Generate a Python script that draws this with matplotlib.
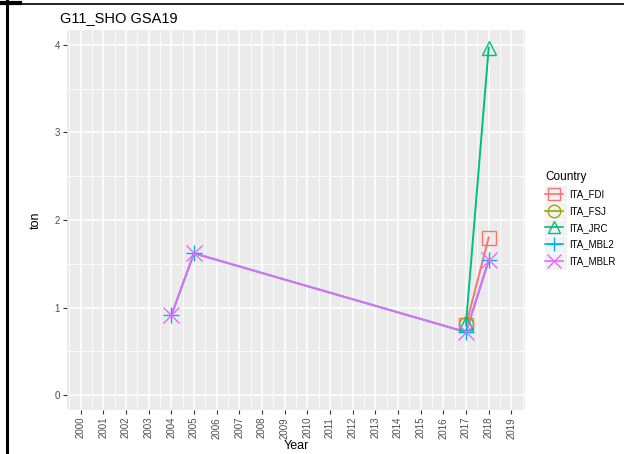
import matplotlib
matplotlib.use("Agg")
import matplotlib.pyplot as plt
from matplotlib.lines import Line2D
from matplotlib.patches import Rectangle
import numpy as np

plt.rcParams['font.family'] = ['Liberation Sans', 'DejaVu Sans']

# Series data (year, tonnes)
fdi_years = [2017, 2018]
fdi_values = [0.80, 1.80]
fsj_years = [2017]
fsj_values = [0.81]
jrc_years = [2017, 2018]
jrc_values = [0.82, 3.97]
mbl2_years = [2004, 2005, 2017, 2018]
mbl2_values = [0.91, 1.62, 0.72, 1.54]
mblr_years = [2004, 2005, 2017, 2018]
mblr_values = [0.91, 1.62, 0.72, 1.54]

countries = ["ITA_FDI", "ITA_FSJ", "ITA_JRC", "ITA_MBL2", "ITA_MBLR"]
colors = ["#F8766D", "#A3A500", "#00BF7D", "#00B0F6", "#E76BF3"]
markers = ["s", "o", "^", "+", "x"]
year_ticks = list(range(2000, 2020))
y_ticks = [0, 1, 2, 3, 4]

series = [(fdi_years, fdi_values), (fsj_years, fsj_values), (jrc_years, jrc_values),
          (mbl2_years, mbl2_values), (mblr_years, mblr_values)]

W, H = 624, 454
fig = plt.figure(figsize=(W / 100, H / 100), dpi=100)
fig.patch.set_facecolor("white")

# frame lines at the page edges
fig.add_artist(Line2D([7 / W, 7 / W], [0, 1], color="black", lw=2.2, transform=fig.transFigure))
fig.add_artist(Line2D([0, 1], [1 - 4 / H, 1 - 4 / H], color="black", lw=1.2, transform=fig.transFigure))
fig.add_artist(Line2D([0, 20 / W], [1 - 3 / H, 1 - 3 / H], color="black", lw=3, transform=fig.transFigure))

left, right, bottom, top = 67, 525, 410, 30
ax = fig.add_axes([left / W, 1 - bottom / H, (right - left) / W, (bottom - top) / H])
ax.set_facecolor("#EBEBEB")
for s in ax.spines.values():
    s.set_visible(False)

xmin, xmax = 1999.4, 2019.6
ymin, ymax = -0.17, 4.17
ax.set_xlim(xmin, xmax)
ax.set_ylim(ymin, ymax)

# ggplot-style grid
for yv in np.arange(0, 4.01, 1):
    ax.axhline(yv, color="white", lw=1.1, zorder=0)
for yv in np.arange(0.5, 4.01, 1):
    ax.axhline(yv, color="white", lw=0.55, zorder=0)
for xv in year_ticks:
    ax.axvline(xv, color="white", lw=1.1, zorder=0)
for xv in np.arange(1999.5, 2020, 1):
    ax.axvline(xv, color="white", lw=0.55, zorder=0)

for (xs, ys), c, m in zip(series, colors, markers):
    ax.plot(xs, ys, color=c, lw=1.4, zorder=2)
for (xs, ys), c, m in zip(series, colors, markers):
    if m in ("+", "x"):
        ax.plot(xs, ys, linestyle="none", marker=m, color=c, markersize=11, mew=1.0, zorder=3)
    else:
        ax.plot(xs, ys, linestyle="none", marker=m, markerfacecolor="none", markeredgecolor=c,
                markersize=10, mew=1.0, zorder=3)

ax.set_xticks(year_ticks)
ax.set_xticklabels([str(y) for y in year_ticks], rotation=90, fontsize=7, color="#4D4D4D")
ax.set_yticks(y_ticks)
ax.set_yticklabels([str(v) for v in y_ticks], fontsize=7, color="#4D4D4D")
ax.tick_params(axis="both", length=3, width=0.8, color="#333333", pad=2)
ax.set_xlabel("Year", fontsize=9, labelpad=1)
ax.set_ylabel("ton", fontsize=9, labelpad=9)

fig.text(60 / W, 1 - 18 / H, "G11_SHO GSA19", fontsize=10.5, ha="left", va="center")

# legend key backgrounds
for i in range(len(countries)):
    yc = 194 + i * 17.0
    fig.add_artist(Rectangle((545 / W, 1 - (yc + 8.3) / H), 22 / W, 16.6 / H,
                             transform=fig.transFigure, facecolor="#F2F2F2",
                             edgecolor="none", zorder=0))

# legend
handles = []
for c, m in zip(colors, markers):
    if m in ("+", "x"):
        h = Line2D([0], [0], color=c, lw=1.2, marker=m, markersize=10, mew=1.0)
    else:
        h = Line2D([0], [0], color=c, lw=1.2, marker=m, markersize=9, mew=1.0,
                   markerfacecolor="none", markeredgecolor=c)
    handles.append(h)
leg = fig.legend(handles, countries, title="Country", loc="upper left",
                 bbox_to_anchor=(545 / W, 1 - 171 / H), frameon=False, fontsize=7,
                 title_fontsize=8.5, handlelength=1.9, handletextpad=0.6, labelspacing=0.68,
                 borderaxespad=0, borderpad=0)
leg._legend_box.align = "left"

fig.savefig("out.png", dpi=100)
